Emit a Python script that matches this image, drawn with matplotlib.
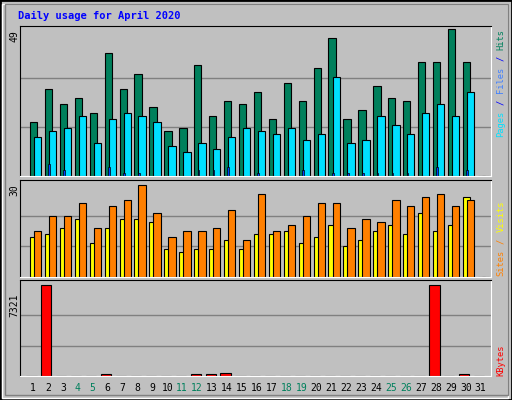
import numpy as np
import matplotlib.pyplot as plt
from matplotlib.patches import Rectangle

days = np.arange(1, 32)
hits = [18, 29, 24, 26, 21, 41, 29, 34, 23, 15, 16, 37, 20, 25, 24, 28, 19, 31, 25, 36,
        46, 19, 22, 30, 26, 25, 38, 38, 49, 38, 0]
files = [13, 15, 16, 20, 11, 19, 21, 20, 18, 10, 8, 11, 9, 13, 16, 15, 14, 16, 12, 14,
         33, 11, 12, 20, 17, 14, 21, 24, 20, 28, 0]
pages = [0, 4, 2, 0, 0, 3, 1, 1, 0, 0, 0, 2, 2, 3, 0, 1, 0, 0, 2, 0,
         1, 1, 1, 1, 1, 1, 0, 3, 0, 2, 0]
visits = [15, 20, 20, 24, 16, 23, 25, 30, 21, 13, 15, 15, 16, 22, 12, 27, 15, 17, 20, 24,
          24, 16, 19, 18, 25, 23, 26, 27, 23, 25, 0]
sites = [13, 14, 16, 19, 11, 16, 19, 19, 18, 9, 8, 9, 9, 12, 9, 14, 14, 15, 11, 13,
         17, 10, 12, 15, 17, 14, 21, 15, 17, 26, 0]
kbytes = [40, 7321, 40, 40, 40, 130, 40, 40, 40, 40, 40, 130, 130, 240, 40, 40, 40, 40, 40, 40,
          40, 40, 40, 40, 40, 40, 40, 7321, 40, 130, 0]
weekend = [4, 5, 11, 12, 18, 19, 25, 26]

BG = '#c0c0c0'
C_HITS, C_FILES, C_PAGES = '#00805c', '#00e0ff', '#0040ff'
C_SITES, C_VISITS, C_KB = '#ffff00', '#ff8000', '#ff0000'

W, H = 512, 400
fig = plt.figure(figsize=(W / 100, H / 100), dpi=100, facecolor=BG)

# 3D-ish frame
fig.patches.append(Rectangle((0, 0), 1, 1, transform=fig.transFigure, fill=False,
                             edgecolor='black', lw=2))
fig.patches.append(Rectangle((2 / W, 2 / H), 1 - 6 / W, 1 - 6 / H, transform=fig.transFigure,
                             fill=False, edgecolor='white', lw=1))
fig.patches.append(Rectangle((5 / W, 5 / H), 1 - 9 / W, 1 - 9 / H, transform=fig.transFigure,
                             fill=False, edgecolor='#808080', lw=1))


def make_ax(top, bottom):
    ax = fig.add_axes([20 / W, 1 - bottom / H, 471 / W, (bottom - top) / H])
    ax.set_facecolor(BG)
    ax.set_xlim(0.13, 31.69)
    ax.set_xticks([])
    ax.set_yticks([])
    for s in ['left', 'top']:
        ax.spines[s].set_color('black')
    for s in ['right', 'bottom']:
        ax.spines[s].set_color('white')
    return ax


mono = 'DejaVu Sans Mono'

# top panel: hits / files / pages
ax1 = make_ax(26, 176)
ax1.set_ylim(0, 49 * 150 / 146.7)
for g in (49 / 3, 98 / 3):
    ax1.axhline(g, color='#808080', lw=1, zorder=0)
ax1.bar(days - 0.2, hits, width=0.49, align='edge', color=C_HITS, edgecolor='black', lw=0.8)
ax1.bar(days + 0.07, files, width=0.49, align='edge', color=C_FILES, edgecolor='black', lw=0.8)
ax1.bar(days + 0.03, pages, width=0.12, align='edge', color=C_PAGES, edgecolor='black', lw=0.5)

# middle panel: sites / visits
ax2 = make_ax(180, 277)
ax2.set_ylim(0, 30 * 97 / 92)
for g in (10, 20):
    ax2.axhline(g, color='#808080', lw=1, zorder=0)
ax2.bar(days - 0.2, sites, width=0.49, align='edge', color=C_SITES, edgecolor='black', lw=0.8)
ax2.bar(days + 0.07, visits, width=0.49, align='edge', color=C_VISITS, edgecolor='black', lw=0.8)

# bottom panel: kbytes
ax3 = make_ax(280, 376)
ax3.set_ylim(0, 7321 * 96 / 91)
for g in (7321 / 3, 7321 * 2 / 3):
    ax3.axhline(g, color='#808080', lw=1, zorder=0)
ax3.bar(days - 0.44, kbytes, width=0.68, align='edge', color=C_KB, edgecolor='black', lw=0.8)

# title
fig.text(18 / W, 1 - 16 / H, 'Daily usage for April 2020', color='#0000ff',
         family=mono, fontweight='bold', fontsize=7.5, va='center')

# left max labels
for txt, y in (('49', 36), ('30', 190), ('7321', 305)):
    fig.text(14 / W, 1 - y / H, txt, rotation=90, family=mono, fontsize=7,
             ha='center', va='center')


# right legends, built piece by piece bottom-to-top
def right_label(parts, ybottom):
    cw = 5.4
    y = ybottom
    for txt, col in parts:
        n = len(txt)
        fig.text(501 / W, 1 - (y - cw * n / 2) / H, txt.strip(), rotation=90, color=col,
                 family=mono, fontsize=6.3, ha='center', va='center')
        y -= cw * n


right_label([('Pages', C_FILES), (' / ', '#0000ff'), ('Files', '#4080ff'),
             (' / ', '#0000ff'), ('Hits', C_HITS)], 137)
right_label([('Sites', C_VISITS), (' / ', C_VISITS), ('Visits', C_SITES)], 276)
right_label([('KBytes', C_KB)], 376)

# day labels
for d in days:
    x = 20 + (d - 0.13) / (31.69 - 0.13) * 471
    fig.text(x / W, 1 - 388 / H, str(d), family=mono, fontsize=7, ha='center', va='center',
             color=C_HITS if d in weekend else 'black')

fig.savefig('out.png', dpi=100, facecolor=BG)
